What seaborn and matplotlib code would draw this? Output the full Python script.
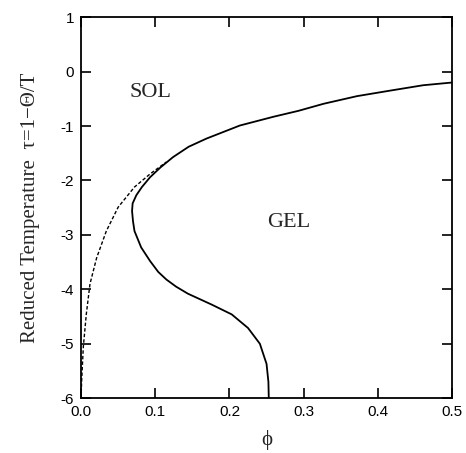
import matplotlib
matplotlib.use("Agg")
import matplotlib.pyplot as plt
import pandas as pd
import seaborn as sns

# gel boundary (solid)
phi_gel = [0.500, 0.461, 0.416, 0.372, 0.327, 0.293, 0.259, 0.214, 0.169, 0.145, 0.124, 0.107,
           0.093, 0.082, 0.0745, 0.0695, 0.0687, 0.0700, 0.072, 0.081, 0.093, 0.104, 0.115,
           0.128, 0.144, 0.160, 0.176, 0.203, 0.225, 0.241, 0.250, 0.2525, 0.253]
tau_gel = [-0.20, -0.25, -0.35, -0.45, -0.59, -0.72, -0.83, -0.99, -1.23, -1.38, -1.57, -1.76,
           -1.94, -2.12, -2.27, -2.42, -2.56, -2.75, -2.93, -3.23, -3.48, -3.68, -3.82,
           -3.95, -4.08, -4.18, -4.28, -4.46, -4.71, -5.00, -5.37, -5.70, -6.00]

# dashed branch
phi_dash = [0.0, 0.0007, 0.003, 0.007, 0.012, 0.021, 0.034, 0.050, 0.072, 0.093, 0.115]
tau_dash = [-6.0, -5.70, -5.06, -4.46, -3.90, -3.42, -2.93, -2.49, -2.12, -1.88, -1.66]

sns.set_style("ticks")
fig, ax = plt.subplots(figsize=(4.66, 4.53), dpi=100)
fig.subplots_adjust(left=0.174, right=0.970, bottom=0.121, top=0.962)

gel = pd.DataFrame({"phi": phi_gel, "tau": tau_gel})
dash = pd.DataFrame({"phi": phi_dash, "tau": tau_dash})
sns.lineplot(data=gel, x="phi", y="tau", sort=False, estimator=None, color="black", lw=1.3, ax=ax)
sns.lineplot(data=dash, x="phi", y="tau", sort=False, estimator=None, color="black", lw=1.0,
             linestyle=(0, (2.5, 1.5)), ax=ax)

ax.set_xlim(0, 0.5)
ax.set_ylim(-6, 1)
ax.set_xticks([0.0, 0.1, 0.2, 0.3, 0.4, 0.5])
ax.set_xticklabels(["0.0", "0.1", "0.2", "0.3", "0.4", "0.5"])
ax.set_yticks([1, 0, -1, -2, -3, -4, -5, -6])
ax.set_yticklabels(["1", "0", "-1", "-2", "-3", "-4", "-5", "-6"])
ax.tick_params(direction="in", length=7, width=1.2, top=True, right=True,
               labelsize=11, pad=5, colors="black")
for lab in ax.get_xticklabels() + ax.get_yticklabels():
    lab.set_family("Liberation Sans")
for s in ax.spines.values():
    s.set_linewidth(1.3)
    s.set_color("black")

ax.set_xlabel("ϕ", family="Liberation Serif", fontsize=15, labelpad=8)
ax.set_ylabel("Reduced Temperature  τ=1−Θ/T", family=["Liberation Serif", "DejaVu Serif"],
              fontsize=15, labelpad=15)
ax.text(0.093, -0.38, "SOL", family="Liberation Serif", fontsize=16, ha="center", va="center")
ax.text(0.28, -2.77, "GEL", family="Liberation Serif", fontsize=16, ha="center", va="center")

fig.savefig("out.png", dpi=100)
